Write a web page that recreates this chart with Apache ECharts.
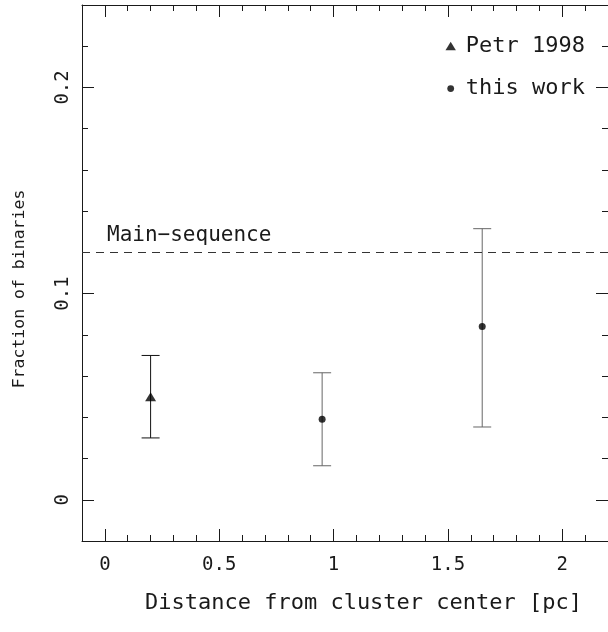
<!DOCTYPE html>
<html><head><meta charset="utf-8">
<script src="https://cdn.jsdelivr.net/npm/echarts@6/dist/echarts.min.js"></script>
<style>html,body{margin:0;padding:0;background:#fff}#c{width:608px;height:632px}</style>
</head><body><div id="c"></div>
<script>
// ---- data ----
const seriesNames = ['Petr 1998', 'this work'];
const petrX = [0.2];
const petrY = [0.050];
const petrLow = [0.030];
const petrHigh = [0.070];
const workX = [0.95, 1.65];
const workY = [0.039, 0.084];
const workLow = [0.0165, 0.0353];
const workHigh = [0.0616, 0.1315];
const mainSequence = 0.121;
const xMajorTicks = [0, 0.5, 1, 1.5, 2];
const yMajorTicks = [0, 0.1, 0.2];
const xRange = [-0.1, 2.2];
const yRange = [-0.02, 0.24];
const xTitle = 'Distance from cluster center [pc]';
const yTitle = 'Fraction of binaries';
const lineLabel = 'Main\u2212sequence';

const FONT = 'DejaVu Sans Mono';
const INK = '#1a1a1a';

function xAxisPair(position) {
  return [
    {type:'value', position, min:xRange[0], max:xRange[1],
     axisLine:{show:true,onZero:false,lineStyle:{color:INK,width:1}},
     axisTick:{show:true,inside:true,length:12,customValues:xMajorTicks,lineStyle:{color:INK}},
     axisLabel:{show:position==='bottom',customValues:xMajorTicks,margin:15,fontFamily:FONT,fontSize:19,color:INK},
     splitLine:{show:false}},
    {type:'value', position, min:xRange[0], max:xRange[1], interval:0.1,
     axisLine:{show:false,onZero:false},
     axisTick:{show:true,inside:true,length:6,lineStyle:{color:INK}},
     axisLabel:{show:false}, splitLine:{show:false}}
  ];
}
function yAxisPair(position) {
  return [
    {type:'value', position, min:yRange[0], max:yRange[1],
     axisLine:{show:true,onZero:false,lineStyle:{color:INK,width:1}},
     axisTick:{show:true,inside:true,length:12,customValues:yMajorTicks,lineStyle:{color:INK}},
     axisLabel:{show:position==='left',customValues:yMajorTicks,rotate:90,margin:9,fontFamily:FONT,fontSize:19,color:INK},
     splitLine:{show:false}},
    {type:'value', position, min:yRange[0], max:yRange[1], interval:0.02,
     axisLine:{show:false,onZero:false},
     axisTick:{show:true,inside:true,length:6,lineStyle:{color:INK}},
     axisLabel:{show:false}, splitLine:{show:false}}
  ];
}

function errorBars(color) {
  return function (params, api) {
    const x = api.value(0), lo = api.value(1), hi = api.value(2);
    const p1 = api.coord([x, hi]), p2 = api.coord([x, lo]);
    const cap = 9;
    const style = {stroke: color, lineWidth: 1};
    return {type:'group', children:[
      {type:'line', shape:{x1:p1[0],y1:p1[1],x2:p2[0],y2:p2[1]}, style},
      {type:'line', shape:{x1:p1[0]-cap,y1:p1[1],x2:p1[0]+cap,y2:p1[1]}, style},
      {type:'line', shape:{x1:p2[0]-cap,y1:p2[1],x2:p2[0]+cap,y2:p2[1]}, style}
    ]};
  };
}

const chart = echarts.init(document.getElementById('c'), null, {renderer:'canvas'});
chart.setOption({
  animation:false,
  backgroundColor:'#fff',
  grid:{left:82, top:5, width:529.7, height:536},
  xAxis:[...xAxisPair('bottom'), ...xAxisPair('top')],
  yAxis:[...yAxisPair('left'), ...yAxisPair('right')],
  legend:{
    orient:'vertical', left:440.7, top:35, padding:0, itemGap:20.6,
    itemWidth:20, itemHeight:20, selectedMode:false,
    textStyle:{fontFamily:FONT, fontSize:22, lineHeight:22, color:INK},
    data:[
      {name:seriesNames[0], icon:'path://M0,0M20,20M4.8,14.3L15.2,14.3L10,5.7Z'},
      {name:seriesNames[1], icon:'path://M0,0M20,20M13.4,10A3.4,3.4,0,1,1,6.6,10A3.4,3.4,0,1,1,13.4,10Z'}
    ]
  },
  series:[
    {name:seriesNames[0], type:'scatter', symbol:'triangle', symbolSize:[11,9],
     itemStyle:{color:'#000'}, z:5,
     data: petrX.map((x,i)=>[x, petrY[i]])},
    {name:seriesNames[1], type:'scatter', symbol:'circle', symbolSize:7,
     itemStyle:{color:'#000'}, z:5,
     data: workX.map((x,i)=>[x, workY[i]])},
    {name:seriesNames[0], type:'custom', renderItem:errorBars('#111'), itemStyle:{color:'#000'}, z:3,
     encode:{x:0, y:[1,2]},
     data: petrX.map((x,i)=>[x, petrLow[i], petrHigh[i]])},
    {name:seriesNames[1], type:'custom', renderItem:errorBars('#666'), itemStyle:{color:'#000'}, z:3,
     encode:{x:0, y:[1,2]},
     data: workX.map((x,i)=>[x, workLow[i], workHigh[i]])},
    {name:'Main-sequence', type:'line', data:[], z:2,
     markLine:{silent:true, symbol:'none', animation:false,
       lineStyle:{type:[8,6], color:'#333', width:1},
       label:{show:true, position:'insideStartTop', formatter:lineLabel, distance:[25,6],
              fontFamily:FONT, fontSize:21, color:INK},
       data:[{yAxis:mainSequence}]}}
  ],
  graphic:[
    {type:'text', x:363.5, y:603, style:{text:xTitle, fontFamily:FONT, fontSize:22, fill:INK, align:'center', verticalAlign:'middle'}},
    {type:'text', x:20, y:289, rotation:Math.PI/2, style:{text:yTitle, fontFamily:FONT, fontSize:16.5, fill:INK, align:'center', verticalAlign:'middle'}}
  ]
});
</script>
</body></html>
